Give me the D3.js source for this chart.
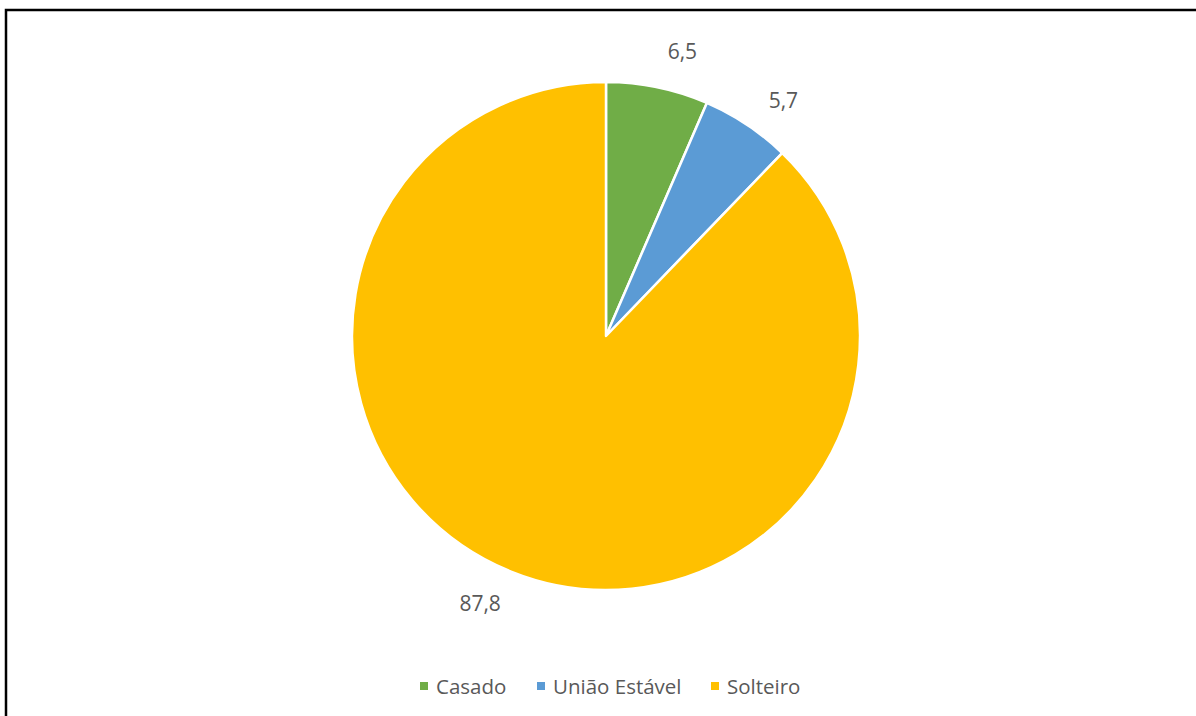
<!DOCTYPE html>
<html>
<head>
<meta charset="utf-8">
<script src="https://cdn.jsdelivr.net/npm/d3@7"></script>
<style>
  html, body { margin: 0; padding: 0; background: #fff; }
  svg { display: block; }
  text { font-family: "Open Sans", "Noto Sans", sans-serif; fill: #595959; }
</style>
</head>
<body>
<svg id="chart" width="1196" height="716"></svg>
<script>
// Estado civil (%)
const categories = ["Casado", "União Estável", "Solteiro"];
const values = [6.5, 5.7, 87.8];
const colors = ["#70AD47", "#5B9BD5", "#FFC000"];

const W = 1196, H = 716;
const cx = 606, cy = 336, radius = 254;

const svg = d3.select("#chart");

// chart frame (top and left edges visible)
svg.append("path")
  .attr("d", `M6,${H + 5} V10 H${W + 5}`)
  .attr("fill", "none")
  .attr("stroke", "#000")
  .attr("stroke-width", 2.5);

const color = d3.scaleOrdinal().domain(categories).range(colors);

const pie = d3.pie().value(d => d.value).sort(null);
const arcs = pie(categories.map((c, i) => ({ name: c, value: values[i] })));

const arc = d3.arc().innerRadius(0).outerRadius(radius);

const g = svg.append("g").attr("transform", `translate(${cx},${cy})`);

g.selectAll("path.slice")
  .data(arcs)
  .enter().append("path")
  .attr("class", "slice")
  .attr("d", arc)
  .attr("fill", d => color(d.data.name))
  .attr("stroke", "#fff")
  .attr("stroke-width", 2.5)
  .attr("stroke-linejoin", "round");

// value labels just outside each slice
const fmt = v => String(v.toFixed(1)).replace(".", ",");
const labelR = radius + 41;
const shift = 3.3 * Math.PI / 180;
g.selectAll("text.val")
  .data(arcs)
  .enter().append("text")
  .attr("class", "val")
  .attr("x", d => labelR * Math.sin((d.startAngle + d.endAngle) / 2 + shift))
  .attr("y", d => -labelR * Math.cos((d.startAngle + d.endAngle) / 2 + shift))
  .attr("text-anchor", "middle")
  .attr("dominant-baseline", "central")
  .attr("font-size", 21)
  .text(d => fmt(d.data.value));

// legend
const legendY = 686;
const legendX = [420, 537, 711];
const leg = svg.append("g");
categories.forEach((c, i) => {
  leg.append("rect")
    .attr("x", legendX[i]).attr("y", legendY - 4)
    .attr("width", 8).attr("height", 8)
    .attr("fill", color(c));
  leg.append("text")
    .attr("x", legendX[i] + 16).attr("y", legendY)
    .attr("dominant-baseline", "central")
    .attr("font-size", 20.5)
    .text(c);
});
</script>
</body>
</html>
